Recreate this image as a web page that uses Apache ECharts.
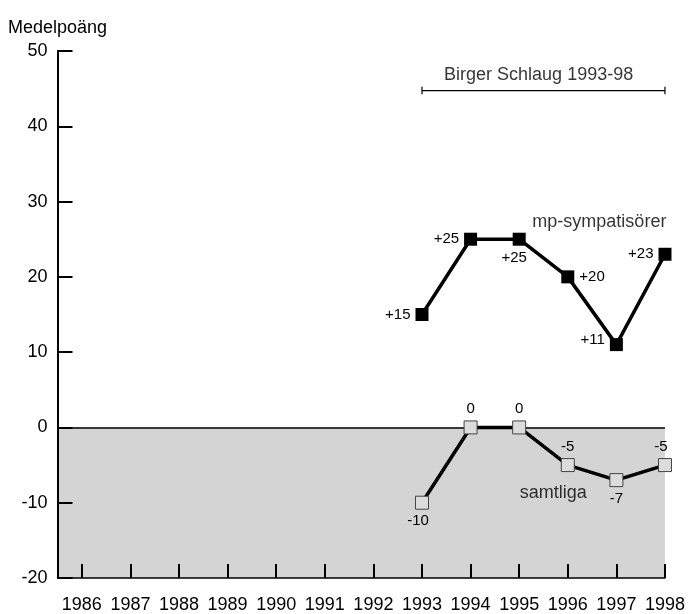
<!DOCTYPE html>
<html>
<head>
<meta charset="utf-8">
<script src="https://cdn.jsdelivr.net/npm/echarts@6/dist/echarts.min.js"></script>
<style>
html,body{margin:0;padding:0;background:#fff;}
#chart{width:688px;height:614px;}
</style>
</head>
<body>
<div id="chart"></div>
<script>
var years = [1986,1987,1988,1989,1990,1991,1992,1993,1994,1995,1996,1997,1998];
var seriesYears = [1993,1994,1995,1996,1997,1998];
var mpValues = [15,25,25,20,11,23];
var allValues = [-10,0,0,-5,-7,-5];
var yTicks = [-20,-10,0,10,20,30,40,50];
var xMin = 1985.5, xMax = 1998;
var bracketYears = [1993,1998];
var bracketLevel = 44.75;
var annotations = [
  {text:'Birger Schlaug 1993-98', x:1995.4, y:46.8},
  {text:'mp-sympatisörer', x:1996.65, y:27.3},
  {text:'samtliga', x:1995.7, y:-8.7}
];

var FONT = "'Liberation Sans', Arial, sans-serif";
var mpLabelPos = ['left','left','bottom','right','left','left'];
var mpLabelOff = [[0,0],[0,0],[-5,0],[0,0],[0,-5],[0,0]];
var allLabelPos = ['bottom','top','top','top','bottom','top'];
var allLabelOff = [[-4,0],[0,0],[0,0],[0,0],[0,0],[-4,0]];

function build(vals, pos, off, fmt){
  return vals.map(function(v,i){
    return {value:[seriesYears[i], v], label:{position:pos[i], offset:off[i], formatter:fmt(v)}};
  });
}

var chart = echarts.init(document.getElementById('chart'));
var option = {
  animation:false,
  backgroundColor:'#fff',
  title:{text:'Medelpoäng', left:3, top:14, textStyle:{fontFamily:FONT, fontSize:18, fontWeight:'normal', color:'#000'}},
  grid:{left:57.5, right:21, top:51, bottom:33.3, containLabel:false},
  xAxis:{
    type:'value', min:xMin, max:xMax, z:10,
    splitLine:{show:false},
    axisLine:{show:true, onZero:false, lineStyle:{color:'#000', width:1.5}},
    axisTick:{show:true, inside:true, length:14, customValues:years, lineStyle:{color:'#000', width:2}},
    axisLabel:{show:true, customValues:years, margin:18, fontFamily:FONT, fontSize:18, color:'#000', formatter:function(v){return String(v);}}
  },
  yAxis:{
    type:'value', min:yTicks[0], max:yTicks[yTicks.length-1], interval:10, z:10,
    splitLine:{show:false},
    axisLine:{show:true, onZero:false, lineStyle:{color:'#000', width:2}},
    axisTick:{show:true, inside:true, length:15, lineStyle:{color:'#000', width:2}},
    axisLabel:{margin:10, fontFamily:FONT, fontSize:18, color:'#000'}
  },
  series:[
    {
      type:'line', data:build(allValues, allLabelPos, allLabelOff, function(v){return String(v);}),
      symbol:'rect', symbolSize:13, z:5,
      lineStyle:{color:'#000', width:3.5},
      itemStyle:{color:'#dcdcdc', borderColor:'#444', borderWidth:1},
      label:{show:true, fontFamily:FONT, fontSize:15, color:'#000', distance:4},
      markArea:{silent:true, itemStyle:{color:'#d4d4d4'}, data:[[{xAxis:xMin, yAxis:yTicks[0]},{xAxis:xMax, yAxis:0}]]},
      markLine:{silent:true, symbol:'none', label:{show:false}, lineStyle:{color:'#000', width:1.5, type:'solid'}, data:[[{coord:[xMin,0]},{coord:[xMax,0]}]]}
    },
    {
      type:'line', data:build(mpValues, mpLabelPos, mpLabelOff, function(v){return '+'+v;}),
      symbol:'rect', symbolSize:13, z:5,
      lineStyle:{color:'#000', width:3.5},
      itemStyle:{color:'#000'},
      label:{show:true, fontFamily:FONT, fontSize:15, color:'#000', distance:5}
    },
    {
      type:'line', data:bracketYears.map(function(y){return [y, bracketLevel];}),
      symbol:'none', lineStyle:{color:'#000', width:1.2}, silent:true
    },
    {
      type:'line', data:[[bracketYears[0], bracketLevel-0.5],[bracketYears[0], bracketLevel+0.5]],
      symbol:'none', lineStyle:{color:'#000', width:1.2}, silent:true
    },
    {
      type:'line', data:[[bracketYears[1], bracketLevel-0.5],[bracketYears[1], bracketLevel+0.5]],
      symbol:'none', lineStyle:{color:'#000', width:1.2}, silent:true
    },
    {
      type:'scatter', symbolSize:0, silent:true,
      data:annotations.map(function(a){return {value:[a.x, a.y], label:{formatter:a.text}};}),
      label:{show:true, position:'inside', fontFamily:FONT, fontSize:18, color:'#000'}
    }
  ]
};
chart.setOption(option);
</script>
</body>
</html>
